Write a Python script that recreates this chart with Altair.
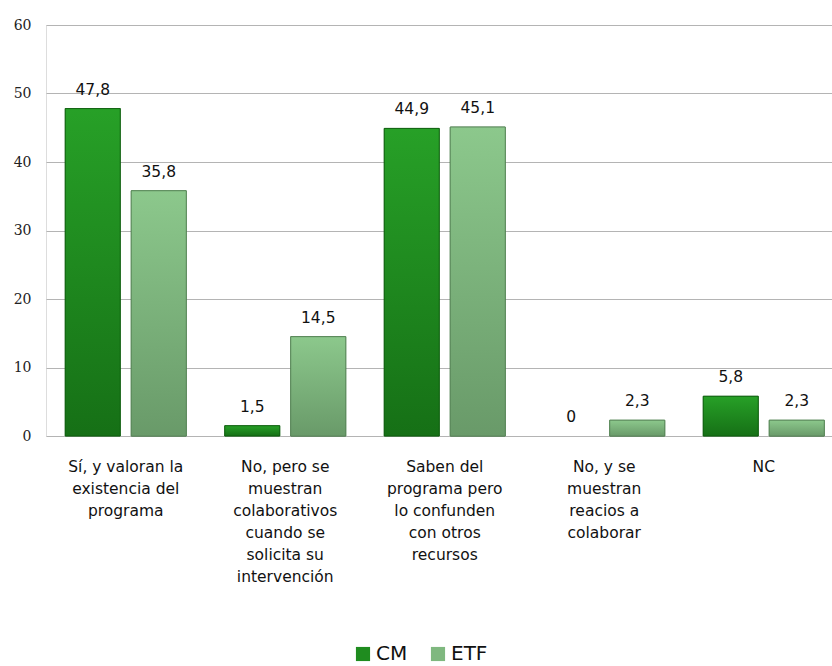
import altair as alt
import pandas as pd

categories = [
    "Sí, y valoran la\nexistencia del\nprograma",
    "No, pero se\nmuestran\ncolaborativos\ncuando se\nsolicita su\nintervención",
    "Saben del\nprograma pero\nlo confunden\ncon otros\nrecursos",
    "No, y se\nmuestran\nreacios a\ncolaborar",
    "NC",
]
series = ["CM", "ETF"]
cm_values = [47.8, 1.5, 44.9, 0, 5.8]
etf_values = [35.8, 14.5, 45.1, 2.3, 2.3]

rows = []
for c, a, b in zip(categories, cm_values, etf_values):
    rows.append({"cat": c, "serie": "CM", "valor": a})
    rows.append({"cat": c, "serie": "ETF", "valor": b})
df = pd.DataFrame(rows)
df["etiqueta"] = df["valor"].map(lambda v: ("%g" % v).replace(".", ","))

FONT = "DejaVu Sans"

x_enc = alt.X("cat:N", sort=categories,
              scale=alt.Scale(paddingInner=0, paddingOuter=0, range=[0, 797.5]),
              axis=alt.Axis(title=None, labelAngle=0, domain=False, ticks=False,
                            labelPadding=30, labelFontSize=15.5, labelFont=FONT,
                            labelColor="#111111", labelLineHeight=22,
                            labelBaseline="middle",
                            labelExpr="split(datum.label, '\\n')"))
xo_enc = alt.XOffset("serie:N", sort=series,
                     scale=alt.Scale(domain=series, paddingInner=0.1667, paddingOuter=0.2917))
y_enc = alt.Y("valor:Q",
              scale=alt.Scale(domain=[0, 60], nice=False),
              axis=alt.Axis(title=None, values=[0, 10, 20, 30, 40, 50, 60],
                            domain=False, ticks=False, labelPadding=15,
                            labelFont="DejaVu Serif", labelFontSize=14,
                            labelColor="#222222", gridColor="#b4b4b4",
                            gridWidth=1.2, minExtent=40, maxExtent=40))

base = alt.Chart(df)
nonzero = base.transform_filter(alt.datum.valor > 0)

bars = nonzero.mark_bar(stroke="#0f5a0f", strokeWidth=0.8).encode(
    x=x_enc, xOffset=xo_enc, y=y_enc,
    color=alt.Color("serie:N", sort=series,
                    scale=alt.Scale(domain=series, range=["#1f8c1f", "#7fb87f"]),
                    legend=alt.Legend(title=None, orient="none", direction="horizontal",
                                      legendX=307, legendY=619, symbolType="square",
                                      symbolSize=200, symbolStrokeWidth=0,
                                      labelFontSize=20, labelFont=FONT,
                                      labelColor="#111111", columnPadding=20,
                                      labelOffset=3)),
)

def grad(top, bottom):
    return alt.LinearGradient(gradient="linear",
                              stops=[alt.GradientStop(color=top, offset=0),
                                     alt.GradientStop(color=bottom, offset=1)],
                              x1=0, x2=0, y1=0, y2=1)

cm_bars = nonzero.transform_filter(alt.datum.serie == "CM").mark_bar(
    fill=grad("#27a027", "#167016"), stroke="#0e5a0e", strokeWidth=0.8
).encode(x=x_enc, xOffset=xo_enc, y=y_enc)

etf_bars = nonzero.transform_filter(alt.datum.serie == "ETF").mark_bar(
    fill=grad("#8cc88c", "#699a69"), stroke="#5a845a", strokeWidth=0.8
).encode(x=x_enc, xOffset=xo_enc, y=y_enc)

labels = base.mark_text(dy=-14, baseline="alphabetic", fontSize=15.5, font=FONT,
                        color="#111111").encode(
    x=x_enc, xOffset=xo_enc, y=y_enc, text="etiqueta:N")

chart = alt.layer(bars, cm_bars, etf_bars, labels).properties(
    width=786, height=411,
    autosize=alt.AutoSizeParams(type="none"),
    padding={"left": 46, "top": 25, "right": 0, "bottom": 230},
).configure_view(strokeWidth=0, stroke="transparent").configure(background="white")

chart.save("out.html", embed_options={"renderer": "svg", "actions": False})
